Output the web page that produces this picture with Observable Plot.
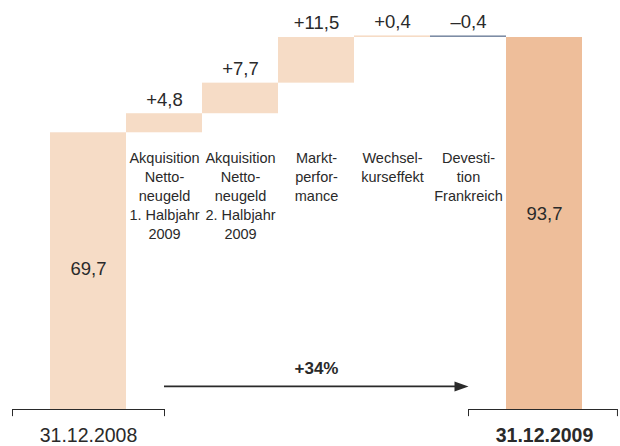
<!DOCTYPE html>
<html>
<head>
<meta charset="utf-8">
<script src="https://cdn.jsdelivr.net/npm/d3@7"></script>
<script src="https://cdn.jsdelivr.net/npm/@observablehq/plot@0.6"></script>
<style>
  html, body { margin: 0; padding: 0; background: #fff; }
  #chart svg { display: block; }
</style>
</head>
<body>
<div id="chart"></div>
<script>
// ---- data ----
const steps = ["31.12.2008", "Akq1", "Akq2", "Markt", "Wechsel", "Devest", "31.12.2009"];
const kinds = ["total", "delta", "delta", "delta", "delta", "delta", "total"];
const values = [69.7, 4.8, 7.7, 11.5, 0.4, -0.4, 93.7];
const valueLabels = ["69,7", "+4,8", "+7,7", "+11,5", "+0,4", "–0,4", "93,7"];
const categoryLabels = [
  "",
  "Akquisition\nNetto-\nneugeld\n1. Halbjahr\n2009",
  "Akquisition\nNetto-\nneugeld\n2. Halbjahr\n2009",
  "Markt-\nperfor-\nmance",
  "Wechsel-\nkurseffekt",
  "Devesti-\ntion\nFrankreich",
  ""
];
const growthLabel = "+34%";

// ---- derived rows ----
let run = 0;
const rows = steps.map((s, i) => {
  let y1, y2;
  if (kinds[i] === "total") { y1 = 0; y2 = values[i]; run = values[i]; }
  else { y1 = run; y2 = run + values[i]; run = y2; }
  return {i, step: s, kind: kinds[i], v: values[i], y1, y2, top: Math.max(y1, y2),
          label: valueLabels[i], cat: categoryLabels[i]};
});
const totals = rows.filter(d => d.kind === "total");
const deltas = rows.filter(d => d.kind === "delta");
const first = totals[0], last = totals[totals.length - 1];

const colorOf = d => d.kind === "total"
  ? (d.i === 0 ? "#f6dcc6" : "#eebe9a")
  : (d.v < 0 ? "#7d8ca5" : "#f6dcc6");

const arrowHead = {
  draw(ctx) { ctx.moveTo(7, 0); ctx.lineTo(-7, -5); ctx.lineTo(-7, 5); ctx.closePath(); }
};
const arrowY = 5.8;
const catTop = 65.5;
const ink = "#2a2a2a";

const chart = Plot.plot({
  width: 620,
  height: 446,
  margin: 0,
  x: {type: "linear", domain: [-0.5, 6.5], range: [50, 582], axis: null},
  y: {domain: [0, 93.7], range: [409, 37], axis: null},
  style: {fontFamily: "'Liberation Sans', Arial, sans-serif", color: ink, background: "#fff"},
  marks: [
    Plot.rect(rows, {x1: d => d.i - 0.5, x2: d => d.i + 0.5, y1: "y1", y2: "y2", fill: colorOf}),
    // delta value labels
    Plot.text(deltas, {x: "i", y: "top", text: "label", dy: -14, fontSize: 18.5, lineAnchor: "middle", fill: ink}),
    // totals inside bars
    Plot.text([first], {x: "i", y: d => d.v / 2, text: "label", dy: -2, fontSize: 18.5, fill: ink}),
    Plot.text([last], {x: "i", y: d => d.v / 2, text: "label", dy: -9, fontSize: 18.5, fill: ink}),
    // category labels
    Plot.text(deltas, {x: "i", y: () => catTop, text: "cat", lineAnchor: "top", fontSize: 14.5, lineHeight: 1.31, fill: ink}),
    // brackets
    Plot.ruleY(totals, {y: () => 0, x1: d => d.i - 1, x2: d => Math.min(d.i + 1, 6.96), stroke: ink, strokeWidth: 1}),
    Plot.ruleX(totals.flatMap(d => [{x: d.i - 1}, {x: Math.min(d.i + 1, 6.96)}]), {x: "x", y1: () => 0, y2: () => -1.8, stroke: ink, strokeWidth: 1}),
    // bottom labels
    Plot.text([first], {x: "i", y: () => 0, dy: 26, text: "step", fontSize: 19.5, fill: ink}),
    Plot.text([last], {x: "i", y: () => 0, dy: 26, text: "step", fontSize: 19.5, fontWeight: "bold", fill: ink}),
    // growth arrow
    Plot.ruleY([growthLabel], {y: () => arrowY, x1: () => first.i + 1, x2: () => last.i - 1 - 0.08, stroke: ink, strokeWidth: 1.8}),
    Plot.dot([growthLabel], {x: () => last.i - 1, y: () => arrowY, dx: -7, symbol: arrowHead, r: 5, fill: ink, stroke: "none"}),
    Plot.text([growthLabel], {x: () => (first.i + last.i) / 2, y: () => arrowY, dy: -18, text: d => d, fontSize: 17, fontWeight: "bold", fill: ink})
  ]
});
document.getElementById("chart").append(chart);
</script>
</body>
</html>
